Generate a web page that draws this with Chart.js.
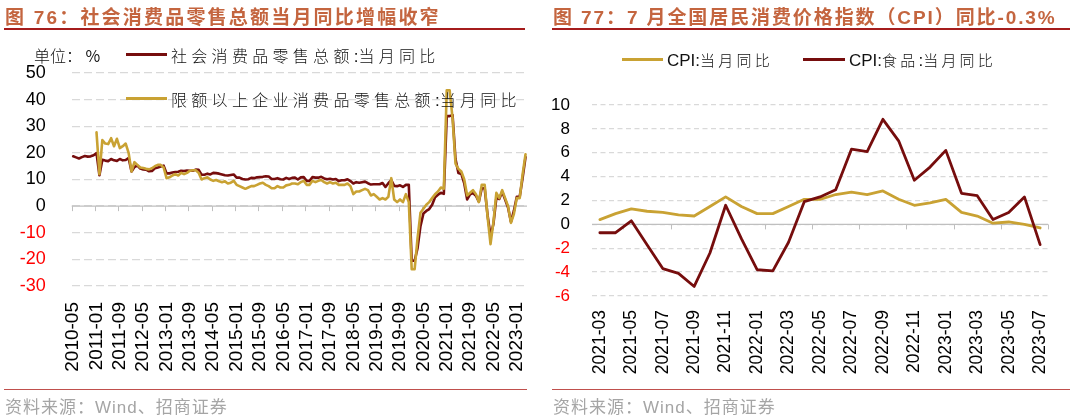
<!DOCTYPE html>
<html><head><meta charset="utf-8">
<script src="https://cdn.jsdelivr.net/npm/chart.js@4.4.1/dist/chart.umd.min.js"></script>
<style>
html,body{margin:0;padding:0;background:#fff}
body{width:1080px;height:418px;position:relative;overflow:hidden;font-family:"Liberation Sans","Noto Sans CJK SC",sans-serif}
.panel{position:absolute;top:0;width:540px;height:418px}
.panel canvas{position:absolute;left:0;top:0}
.title{position:absolute;left:5px;top:2px;font-weight:bold;font-size:19px;letter-spacing:2.2px;color:#C4653F;white-space:nowrap;font-family:"Liberation Sans","Noto Sans CJK SC",sans-serif}
.tline{position:absolute;top:28px;height:2px;background:#A51C1C}
.fline{position:absolute;top:389px;height:1px;background:#C0504D}
.foot{position:absolute;left:5px;top:393px;font-size:17px;letter-spacing:1px;color:#A5A5A5;white-space:nowrap;font-family:"Liberation Sans","Noto Sans CJK SC",sans-serif}
.leg{position:absolute;white-space:nowrap;font-size:16px;color:#111;font-family:"Noto Sans CJK SC",sans-serif;line-height:20px}
.sw{position:absolute;height:3px}
.cjk{letter-spacing:4.3px;font-family:"Noto Sans CJK SC",sans-serif;font-weight:300}
.lat{font-family:"Liberation Sans",sans-serif;font-size:17px}
</style></head>
<body>
<div class="panel" style="left:0">
  <canvas id="cL" width="540" height="418"></canvas>
  <div class="title">图 76：社会消费品零售总额当月同比增幅收窄</div>
  <div class="tline" style="left:4px;width:521px"></div>
  <div class="leg" style="left:34px;top:45px"><span class="cjk" style="letter-spacing:0">单位：</span>&nbsp;%</div>
  <div class="sw" style="left:126px;width:41px;top:53px;background:#760D0D"></div>
  <div class="leg" style="left:171px;top:45px"><span class="cjk">社会消费品零售总额</span><span class="lat">:</span><span class="cjk">当月同比</span></div>
  <div class="sw" style="left:126px;width:41px;top:97px;background:#C9A233"></div>
  <div class="leg" style="left:171px;top:89px"><span class="cjk">限额以上企业消费品零售总额</span><span class="lat">:</span><span class="cjk">当月同比</span></div>
  <div class="fline" style="left:4px;width:523px"></div>
  <div class="foot">资料来源：Wind、招商证券</div>
</div>
<div class="panel" style="left:540px">
  <canvas id="cR" width="540" height="418"></canvas>
  <div class="title" style="left:13px;letter-spacing:1.9px">图 77：7 月全国居民消费价格指数（CPI）同比-0.3%</div>
  <div class="tline" style="left:12px;width:518px"></div>
  <div class="sw" style="left:82px;width:41px;top:58px;background:#C9A233"></div>
  <div class="leg" style="left:127px;top:49px"><span class="lat">CPI:</span><span class="cjk" style="font-size:15px;letter-spacing:3.2px">当月同比</span></div>
  <div class="sw" style="left:263px;width:42px;top:58px;background:#760D0D"></div>
  <div class="leg" style="left:309px;top:49px"><span class="lat">CPI:</span><span class="cjk" style="font-size:15px;letter-spacing:3.2px">食品</span><span class="lat">:</span><span class="cjk" style="font-size:15px;letter-spacing:3.2px">当月同比</span></div>
  <div class="fline" style="left:12px;width:518px"></div>
  <div class="foot" style="left:13px">资料来源：Wind、招商证券</div>
</div>
<script>
// ---------- Left chart data ----------
const leftFirstMonth = [2010, 5];
const leftTickLabels = ['2010-05','2011-01','2011-09','2012-05','2013-01','2013-09','2014-05','2015-01','2015-09','2016-05','2017-01','2017-09','2018-05','2019-01','2019-09','2020-05','2021-01','2021-09','2022-05','2023-01'];
const retailTotal = [
 18.7,18.3,17.9,18.4,18.8,18.6,18.7,19.1,
 19.9,11.6,17.4,17.1,16.9,17.7,17.2,17.0,17.7,17.2,17.3,18.1,
 13.0,14.7,15.2,14.1,13.8,13.7,13.1,13.2,14.2,14.5,14.9,15.2,
 12.3,12.3,12.6,12.8,12.9,13.3,13.2,13.4,13.3,13.3,13.7,13.6,
 11.8,11.8,12.2,11.9,12.5,12.4,12.2,11.9,11.6,11.5,11.7,11.9,
 10.7,10.7,10.2,10.0,10.1,10.6,10.5,10.8,10.9,11.0,11.2,11.1,
 10.2,10.2,10.5,10.1,10.0,10.6,10.2,10.6,10.7,10.0,10.8,10.9,
 9.5,9.5,10.9,10.7,10.7,11.0,10.4,10.1,10.3,10.0,10.2,9.4,
 9.7,9.7,10.1,9.4,8.5,9.0,8.8,9.0,9.2,8.6,8.1,8.2,
 8.2,8.2,8.7,7.2,8.6,9.8,7.6,7.5,7.8,7.2,8.0,8.0,
 -20.5,-20.5,-15.8,-7.5,-2.8,-1.8,-1.1,0.5,3.3,4.3,5.0,4.6,
 33.8,33.8,34.2,17.7,12.4,12.1,8.5,2.5,4.4,4.9,3.9,1.7,
 6.7,6.7,-3.5,-11.1,-6.7,3.1,2.7,5.4,2.5,-0.5,-5.9,-1.8,
 3.5,3.5,10.6,18.4
];
const retailAboveQuota = [
 null,null,null,null,null,null,null,null,
 27.7,12.0,24.8,23.5,23.3,25.5,22.5,25.3,21.8,22.5,23.5,20.0,
 13.0,16.5,15.5,14.5,14.3,14.0,13.8,14.2,15.0,15.5,15.5,14.5,
 10.5,10.8,11.5,12.0,11.5,12.5,12.0,12.5,13.3,13.5,13.5,12.5,
 10.0,10.5,10.8,10.0,9.5,9.8,9.3,9.0,9.3,8.5,8.8,9.5,
 8.0,7.5,7.0,6.5,7.0,7.5,7.5,8.0,8.5,8.8,8.0,7.5,
 6.7,6.7,7.5,7.0,7.0,7.8,8.0,8.5,8.5,8.2,9.0,9.5,
 8.0,8.0,9.5,9.0,9.5,9.8,9.0,8.5,9.0,8.5,8.8,8.0,
 8.0,8.0,8.5,7.5,4.5,5.5,5.5,6.0,6.5,6.0,4.0,4.5,
 3.5,2.5,3.0,2.5,3.5,10.5,2.5,1.5,2.5,1.5,4.5,1.5,
 -23.7,-23.7,-12.0,-2.5,-1.0,0.5,1.5,3.0,4.5,5.5,7.0,6.5,
 43.5,43.5,33.0,16.0,14.0,13.0,10.0,4.0,5.0,6.0,4.5,1.5,
 8.0,8.0,-4.0,-14.3,-6.0,5.0,3.0,6.0,3.0,0.0,-6.3,-3.0,
 3.0,3.0,12.0,19.5
];
const leftYMin = -30, leftYMax = 50, leftYStep = 10;

// ---------- Right chart data ----------
const cpiMonths = ['2021-03','2021-04','2021-05','2021-06','2021-07','2021-08','2021-09','2021-10','2021-11','2021-12','2022-01','2022-02','2022-03','2022-04','2022-05','2022-06','2022-07','2022-08','2022-09','2022-10','2022-11','2022-12','2023-01','2023-02','2023-03','2023-04','2023-05','2023-06','2023-07'];
const cpiAll  = [0.4,0.9,1.3,1.1,1.0,0.8,0.7,1.5,2.3,1.5,0.9,0.9,1.5,2.1,2.1,2.5,2.7,2.5,2.8,2.1,1.6,1.8,2.1,1.0,0.7,0.1,0.2,0.0,-0.3];
const cpiFood = [-0.7,-0.7,0.3,-1.7,-3.7,-4.1,-5.2,-2.4,1.6,-1.2,-3.8,-3.9,-1.5,1.9,2.3,2.9,6.3,6.1,8.8,7.0,3.7,4.8,6.2,2.6,2.4,0.4,1.0,2.3,-1.7];
const rightYMin = -6, rightYMax = 10, rightYStep = 2;

// month categories for left chart
const leftMonths = [];
{ let y = leftFirstMonth[0], m = leftFirstMonth[1];
  for (let i = 0; i < retailTotal.length; i++) {
    leftMonths.push(y + '-' + String(m).padStart(2,'0'));
    m++; if (m > 12) { m = 1; y++; }
  } }

const BROWN = '#760D0D', GOLD = '#C9A233';

const zeroAxis = {
  id: 'zeroAxis',
  beforeDatasetsDraw(chart, args, opts) {
    const {ctx, chartArea, scales} = chart;
    const x = scales.x, y = scales.y;
    const y0 = y.getPixelForValue(0);
    ctx.save();
    ctx.strokeStyle = opts.color;
    ctx.lineWidth = 1.3;
    ctx.beginPath(); ctx.moveTo(chartArea.left, y0); ctx.lineTo(chartArea.right, y0); ctx.stroke();
    const n = chart.data.labels.length;
    const step = x.getPixelForValue(1) - x.getPixelForValue(0);
    const start = x.getPixelForValue(0) - step / 2;
    ctx.lineWidth = 1;
    ctx.beginPath();
    for (let k = opts.first; k <= n; k += opts.every) {
      const px = Math.round(start + k * step) + 0.5;
      ctx.moveTo(px, y0); ctx.lineTo(px, y0 + 5);
    }
    ctx.stroke();
    ctx.restore();
  }
};

function makeChart(id, cfg) {
  return new Chart(document.getElementById(id), {
    type: 'line',
    data: { labels: cfg.labels, datasets: cfg.datasets },
    options: {
      responsive: false, animation: false,
      devicePixelRatio: 1,
      layout: { padding: { top: cfg.top, right: cfg.right, left: 0, bottom: 0 } },
      plugins: { legend: { display: false }, tooltip: { enabled: false },
                 zeroAxis: { color: '#BFBFBF', first: cfg.tickFirst, every: cfg.tickEvery } },
      elements: { line: { tension: 0, borderJoinStyle: 'round', borderCapStyle: 'round' }, point: { radius: 0 } },
      scales: {
        x: {
          type: 'category', offset: true,
          grid: { display: false, drawTicks: false },
          border: { display: false },
          afterFit(s) { s.height = cfg.xHeight; s.paddingLeft = 0; s.paddingRight = 0; },
          ticks: {
            autoSkip: false, maxRotation: 90, minRotation: 90, padding: cfg.xPad,
            font: { family: 'Liberation Sans', size: cfg.xFont }, color: '#000',
            callback(v, i) { return cfg.showLabel(i) ? this.getLabelForValue(v) : null; }
          }
        },
        y: {
          min: cfg.ymin, max: cfg.ymax,
          afterFit(s) { s.width = cfg.yWidth; },
          grid: { color: '#D9D9D9', lineWidth: 1.3, drawTicks: false },
          border: { display: false, dash: cfg.dash },
          ticks: {
            stepSize: cfg.ystep, padding: cfg.yPad,
            font: { family: 'Liberation Sans', size: cfg.yFont },
            color: (c) => (c.tick && c.tick.value < 0) ? '#FF0000' : '#000'
          }
        }
      }
    },
    plugins: [zeroAxis]
  });
}

makeChart('cL', {
  labels: leftMonths,
  datasets: [
    { label: '限额以上企业消费品零售总额:当月同比', data: retailAboveQuota, borderColor: GOLD, borderWidth: 2.6, order: 0, spanGaps: false },
    { label: '社会消费品零售总额:当月同比', data: retailTotal, borderColor: BROWN, borderWidth: 2.6, order: 1 }
  ],
  top: 73, right: 13, xHeight: 132, yWidth: 71.7, xPad: 16, yPad: 26, xFont: 19, yFont: 18,
  ymin: leftYMin, ymax: leftYMax, ystep: leftYStep, dash: [8, 4],
  tickFirst: 0, tickEvery: 8,
  showLabel: (i) => leftTickLabels.includes(leftMonths[i])
});

makeChart('cR', {
  labels: cpiMonths,
  datasets: [
    { label: 'CPI:食品:当月同比', data: cpiFood, borderColor: BROWN, borderWidth: 2.8, order: 0 },
    { label: 'CPI:当月同比', data: cpiAll, borderColor: GOLD, borderWidth: 2.8, order: 1 }
  ],
  top: 105, right: 32, xHeight: 122, yWidth: 52, xPad: 14, yPad: 22, xFont: 17.5, yFont: 17,
  ymin: rightYMin, ymax: rightYMax, ystep: rightYStep, dash: [5, 3.5],
  tickFirst: 2, tickEvery: 3,
  showLabel: (i) => i % 2 === 0
});
</script>
</body></html>
